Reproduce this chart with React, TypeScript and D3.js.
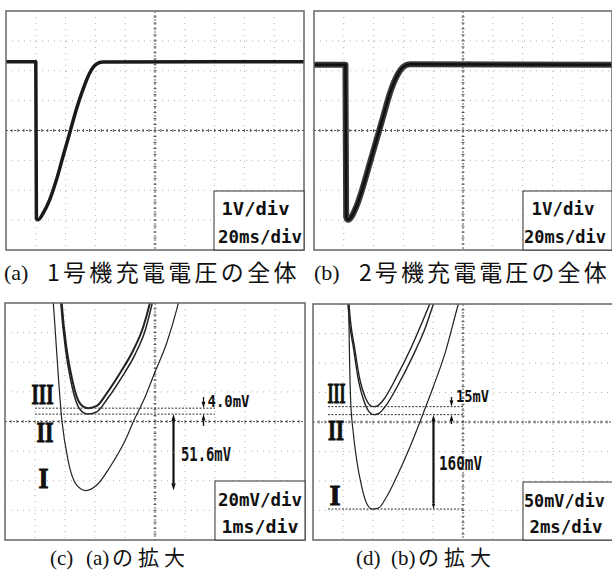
import React from 'react';
import * as d3 from 'd3';

type Pt = [number, number];

// (a) unit 1 charging voltage, [ms, V from screen centre]
const traceA: Pt[] = [
  [0, 2.3], [20, 2.3], [20.4, -2.95], [21.6, -2.99], [24.9, -2.77], [29.3, -2.32], [33.8, -1.66],
  [38.2, -0.88], [42.7, -0.09], [47.1, 0.69], [51.5, 1.35], [56, 1.91], [60.5, 2.22], [64.9, 2.29], [200, 2.3],
];
// (b) unit 2 charging voltage
const traceB: Pt[] = [
  [0, 2.2], [21.1, 2.2], [21.6, -2.9], [22.8, -2.99], [28.4, -2.55], [32.9, -1.88], [37.4, -1.1],
  [41.9, -0.32], [46.4, 0.46], [50.9, 1.24], [55.4, 1.8], [59.9, 2.13], [64.4, 2.22], [200, 2.2],
];

// (c) zoom of (a), [ms, mV]
const zoomA_I: Pt[] = [
  [1.55, 96], [1.61, 80], [1.9, 0], [2.1, -26], [2.39, -42.9], [2.7, -46.6], [3.06, -42.9], [3.5, -30.7],
  [4.06, -10.5], [4.28, 0], [4.67, 16.6], [5.0, 33.4], [5.39, 53], [5.72, 75.3], [5.85, 86],
];
const zoomA_II: Pt[] = [
  [1.81, 96], [1.86, 80], [2.03, 47], [2.19, 28], [2.37, 13.5], [2.6, 6.2], [2.78, 5], [3.06, 6.5],
  [3.42, 15.5], [3.88, 29.5], [4.34, 45.5], [4.68, 62], [4.91, 80], [4.98, 86],
];
const zoomA_III: Pt[] = [
  [1.84, 96], [1.89, 80], [2.06, 48.3], [2.22, 30.3], [2.39, 16.8], [2.61, 10], [2.78, 9], [3.06, 10.5],
  [3.39, 19], [3.83, 32.6], [4.28, 48.3], [4.61, 64], [4.83, 80], [4.9, 86],
];

// (d) zoom of (b), [ms, mV]
const zoomB_I: Pt[] = [
  [2.36, 230], [2.42, 130], [2.51, 37], [2.69, -19], [2.91, -64], [3.25, -110], [3.58, -138], [3.95, -147.5],
  [4.35, -146], [4.91, -126.6], [5.58, -92.7], [6.47, -41.9], [7.35, 14.7], [8.02, 59.8], [8.8, 116.4],
  [9.58, 189.8], [9.8, 210],
];
const zoomB_II: Pt[] = [
  [2.29, 230], [2.33, 201], [2.73, 120], [3.05, 68], [3.38, 37], [3.72, 18], [4.02, 12.5], [4.35, 14],
  [4.78, 25], [5.7, 64], [6.62, 110], [7.45, 157], [8.05, 201], [8.35, 220],
];
const zoomB_III: Pt[] = [
  [2.36, 230], [2.4, 201], [2.8, 122], [3.13, 71.2], [3.47, 42.9], [3.8, 28.5], [4.02, 26], [4.3, 27.5],
  [4.69, 37.3], [5.58, 76.8], [6.47, 122], [7.25, 167.3], [7.8, 201], [8.1, 220],
];

const scaleText = [
  ['1V/div', '20ms/div'],
  ['1V/div', '20ms/div'],
  ['20mV/div', '1ms/div'],
  ['50mV/div', '2ms/div'],
];
const captions = [
  ['(a)', '1号機充電電圧の全体'],
  ['(b)', '2号機充電電圧の全体'],
  ['(c)', '(a)', 'の拡大'],
  ['(d)', '(b)', 'の拡大'],
];
const diffText = [
  ['4.0mV', '51.6mV'],
  ['15mV', '160mV'],
];
const romans = ['III', 'II', 'I'];

const MONO = '"DejaVu Sans Mono", monospace';
const SERIF = '"Liberation Serif", "DejaVu Serif", serif';
const CJK = '"Noto Sans CJK JP", sans-serif';

type Box = { x: number; y: number; w: number; h: number };

const frames: (Box & { xd: Pt; yd: Pt })[] = [
  { x: 6, y: 11, w: 298, h: 239, xd: [0, 200], yd: [-4, 4] },
  { x: 314, y: 11, w: 298, h: 239, xd: [0, 200], yd: [-4, 4] },
  { x: 5, y: 303, w: 300, h: 237, xd: [0, 10], yd: [-80, 80] },
  { x: 313, y: 304, w: 300, h: 236, xd: [0, 20], yd: [-200, 200] },
];

function Grid({ x, y, w, h }: Box) {
  const cx = x + w / 2;
  const cy = y + h / 2;
  const cols = d3.range(1, 10).filter(i => i !== 5).map(i => x + (i * w) / 10);
  const rows = d3.range(1, 8).filter(j => j !== 4).map(j => y + (j * h) / 8);
  const tx = d3.range(1, 50).map(i => x + (i * w) / 50);
  const ty = d3.range(1, 40).map(j => y + (j * h) / 40);
  return (
    <g>
      {cols.map((c, i) => (
        <line key={'c' + i} x1={c} x2={c} y1={y} y2={y + h} stroke="#b0b0b0" strokeDasharray="1 5" />
      ))}
      {rows.map((r, i) => (
        <line key={'r' + i} x1={x} x2={x + w} y1={r} y2={r} stroke="#b0b0b0" strokeDasharray="1 5" />
      ))}
      <line x1={cx} x2={cx} y1={y} y2={y + h} stroke="#555" strokeDasharray="2 2" />
      <line x1={x} x2={x + w} y1={cy} y2={cy} stroke="#555" strokeDasharray="2 2" />
      {tx.map((t, i) => (
        <line key={'tx' + i} x1={t} x2={t} y1={cy - 1.5} y2={cy + 1.5} stroke="#555" />
      ))}
      {ty.map((t, i) => (
        <line key={'ty' + i} x1={cx - 1.5} x2={cx + 1.5} y1={t} y2={t} stroke="#555" />
      ))}
    </g>
  );
}

function VArrow({ x, from, to, head = 4, width = 1.5 }: { x: number; from: number; to: number; head?: number; width?: number }) {
  const dir = Math.sign(to - from);
  const base = to - dir * head * 1.8;
  return (
    <g>
      <line x1={x} x2={x} y1={from} y2={base} stroke="#111" strokeWidth={width} />
      <path d={`M${x},${to}L${x - head * 0.55},${base}L${x + head * 0.55},${base}Z`} fill="#111" />
    </g>
  );
}

function ScaleBox({ x, y, right, bottom, lines, pos }: any) {
  return (
    <g>
      <rect x={x} y={y} width={right - x} height={bottom - y} fill="#fff" stroke="#333" strokeWidth={1} />
      {lines.map((t: string, i: number) => (
        <text key={i} x={pos[i][0]} y={pos[i][1]} textLength={pos[i][2]} lengthAdjust="spacingAndGlyphs"
          fontFamily={MONO} fontWeight="bold" fontSize={18} fill="#111">{t}</text>
      ))}
    </g>
  );
}

export default function App() {
  const scales = frames.map(f => ({
    x: d3.scaleLinear().domain(f.xd).range([f.x, f.x + f.w]),
    y: d3.scaleLinear().domain(f.yd).range([f.y + f.h, f.y]),
  }));
  const lineFor = (i: number) =>
    d3.line<Pt>().x(d => scales[i].x(d[0])).y(d => scales[i].y(d[1])).curve(d3.curveMonotoneX);

  const minOf = (a: Pt[]) => d3.min(a, d => d[1]) as number;
  const cIII = scales[2].y(minOf(zoomA_III));
  const cII = scales[2].y(minOf(zoomA_II));
  const cI = scales[2].y(minOf(zoomA_I));
  const dIII = scales[3].y(minOf(zoomB_III));
  const dII = scales[3].y(minOf(zoomB_II));
  const dI = scales[3].y(minOf(zoomB_I));

  const boxes = [
    { x: 214, y: 191, pos: [[221.5, 215, 68], [218, 243, 84]] },
    { x: 523, y: 191, pos: [[531.5, 215, 63], [524, 243, 82]] },
    { x: 215, y: 481, pos: [[218, 506, 84], [221.5, 533, 77]] },
    { x: 523, y: 482, pos: [[524, 507, 81], [529.5, 533, 73]] },
  ];

  return (
    <svg width={612} height={571} style={{ position: 'absolute', left: 0, top: 0, background: '#fff' }}>
      <defs>
        {frames.map((f, i) => (
          <clipPath id={'clip' + i} key={i}>
            <rect x={f.x} y={f.y} width={f.w} height={f.h} />
          </clipPath>
        ))}
      </defs>
      <rect width={612} height={571} fill="#fff" />
      {frames.map((f, i) => <Grid key={i} x={f.x} y={f.y} w={f.w} h={f.h} />)}

      <g clipPath="url(#clip0)" fill="none" strokeLinejoin="round">
        <path d={lineFor(0)(traceA) || ''} stroke="#1a1a1a" strokeWidth={3.5} />
      </g>
      <g clipPath="url(#clip1)" fill="none" strokeLinejoin="round">
        <path d={lineFor(1)(traceB) || ''} stroke="#3a3a3a" strokeWidth={6} />
        <path d={lineFor(1)(traceB) || ''} stroke="#111" strokeWidth={2.5} />
      </g>
      <g clipPath="url(#clip2)" fill="none">
        <path d={lineFor(2)(zoomA_I) || ''} stroke="#222" strokeWidth={1.2} />
        <path d={lineFor(2)(zoomA_II) || ''} stroke="#222" strokeWidth={1.5} />
        <path d={lineFor(2)(zoomA_III) || ''} stroke="#222" strokeWidth={2} />
      </g>
      <g clipPath="url(#clip3)" fill="none">
        <path d={lineFor(3)(zoomB_I) || ''} stroke="#222" strokeWidth={1.2} />
        <path d={lineFor(3)(zoomB_II) || ''} stroke="#222" strokeWidth={1.4} />
        <path d={lineFor(3)(zoomB_III) || ''} stroke="#222" strokeWidth={1.4} />
      </g>

      {frames.map((f, i) => (
        <rect key={i} x={f.x} y={f.y} width={f.w} height={f.h} fill="none" stroke="#666" strokeWidth={1.5} />
      ))}

      {boxes.map((b, i) => (
        <ScaleBox key={i} x={b.x} y={b.y} right={frames[i].x + frames[i].w} bottom={frames[i].y + frames[i].h}
          lines={scaleText[i]} pos={b.pos} />
      ))}

      {/* level markers */}
      <g stroke="#333" strokeWidth={1} strokeDasharray="2 1.5">
        <line x1={35} x2={215} y1={cIII} y2={cIII} />
        <line x1={35} x2={215} y1={cII} y2={cII} />
        <line x1={328} x2={463} y1={dIII} y2={dIII} />
        <line x1={328} x2={463} y1={dII} y2={dII} />
        <line x1={328} x2={463} y1={dI} y2={dI} />
      </g>
      <VArrow x={203.5} from={397} to={cIII} head={3.5} width={1.3} />
      <VArrow x={203.5} from={426} to={cII} head={3.5} width={1.3} />
      <VArrow x={173.5} from={(cII + cI) / 2} to={cII} head={4} width={2.2} />
      <VArrow x={173.5} from={(cII + cI) / 2} to={cI} head={4} width={2.2} />
      <VArrow x={451.5} from={397} to={dIII} head={3.5} width={1.3} />
      <VArrow x={451.5} from={424} to={dII} head={3.5} width={1.3} />
      <VArrow x={433.5} from={(dII + dI) / 2} to={dII} head={4} width={2.2} />
      <VArrow x={433.5} from={(dII + dI) / 2} to={dI} head={3} width={2.2} />

      <g fontFamily={MONO} fontWeight="bold" fill="#111">
        <text x={207.5} y={407} fontSize={16} textLength={42} lengthAdjust="spacingAndGlyphs">{diffText[0][0]}</text>
        <text x={181} y={461} fontSize={19} textLength={50} lengthAdjust="spacingAndGlyphs">{diffText[0][1]}</text>
        <text x={456} y={402} fontSize={15} textLength={33} lengthAdjust="spacingAndGlyphs">{diffText[1][0]}</text>
        <text x={439} y={470} fontSize={19} textLength={43} lengthAdjust="spacingAndGlyphs">{diffText[1][1]}</text>
      </g>

      <g fontFamily={SERIF} fontWeight="bold" fill="#111" stroke="#111" strokeWidth={1} fontSize={30}>
        <text x={31.5} y={404} textLength={22} lengthAdjust="spacingAndGlyphs">{romans[0]}</text>
        <text x={36.5} y={442} textLength={17} lengthAdjust="spacingAndGlyphs">{romans[1]}</text>
        <text x={38.5} y={488} textLength={10} lengthAdjust="spacingAndGlyphs">{romans[2]}</text>
        <text x={327.5} y={403} textLength={18} lengthAdjust="spacingAndGlyphs">{romans[0]}</text>
        <text x={328} y={440} textLength={16} lengthAdjust="spacingAndGlyphs">{romans[1]}</text>
        <text x={329.5} y={505} textLength={11} lengthAdjust="spacingAndGlyphs">{romans[2]}</text>
      </g>

      <g fill="#111">
        <text x={4} y={280} fontFamily={SERIF} fontSize={22}>{captions[0][0]}</text>
        <text x={47} y={281} fontFamily={CJK} fontSize={23} letterSpacing={3.3}>{captions[0][1]}</text>
        <text x={314} y={280} fontFamily={SERIF} fontSize={22}>{captions[1][0]}</text>
        <text x={359} y={281} fontFamily={CJK} fontSize={23} letterSpacing={3.1}>{captions[1][1]}</text>
        <text x={50} y={565} fontFamily={SERIF} fontSize={21}>{captions[2][0]}</text>
        <text x={86} y={565} fontFamily={SERIF} fontSize={21}>{captions[2][1]}</text>
        <text x={112} y={565} fontFamily={CJK} fontSize={21} letterSpacing={5}>{captions[2][2]}</text>
        <text x={356} y={565} fontFamily={SERIF} fontSize={21}>{captions[3][0]}</text>
        <text x={391} y={565} fontFamily={SERIF} fontSize={21}>{captions[3][1]}</text>
        <text x={418} y={565} fontFamily={CJK} fontSize={21} letterSpacing={5}>{captions[3][2]}</text>
      </g>
    </svg>
  );
}
